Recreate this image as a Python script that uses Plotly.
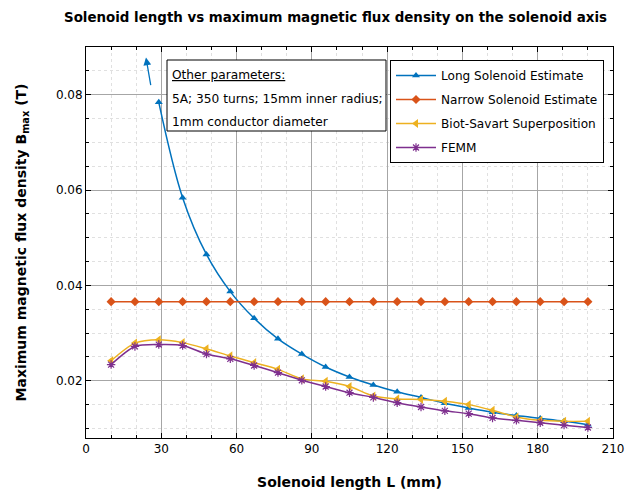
import plotly.graph_objects as go

# ---- data ----
length_mm = [10, 19.5, 29, 38.5, 48, 57.5, 67, 76.5, 86, 95.5, 105, 114.5, 124,
             133.5, 143, 152.5, 162, 171.5, 181, 190.5, 200]
long_x = length_mm[2:]
long_solenoid = [0.0784, 0.0584, 0.0465, 0.0387, 0.0331, 0.0288, 0.0256, 0.0229,
                 0.0208, 0.0191, 0.0177, 0.0165, 0.0153, 0.0143, 0.0134, 0.0127,
                 0.0121, 0.0115, 0.0108]
narrow_solenoid = [0.0366] * 21
biot_savart = [0.0242, 0.0279, 0.0286, 0.0280, 0.0267, 0.0252, 0.0238, 0.0224,
               0.0204, 0.0199, 0.0188, 0.0168, 0.0162, 0.0161, 0.0157, 0.0150,
               0.0138, 0.0124, 0.0117, 0.0115, 0.0115]
femm = [0.0234, 0.0272, 0.0276, 0.0274, 0.0256, 0.0246, 0.0232, 0.0217, 0.0201,
        0.0188, 0.0175, 0.0165, 0.0154, 0.0145, 0.0137, 0.0131, 0.0122, 0.0117,
        0.0112, 0.0107, 0.0102]
x_ticks = [0, 30, 60, 90, 120, 150, 180, 210]
y_ticks = [0.02, 0.04, 0.06, 0.08]

FONT = "DejaVu Sans"
BLUE, ORANGE, YELLOW, PURPLE = "#0072BD", "#D95319", "#EDB120", "#7E2F8E"

# page body adds an 8px offset; plot area target (screen px): x 86..613, y 47..438
OFF = 8
FIG_W, FIG_H = 639 - OFF, 492 - OFF
PL, PR, PT, PB = 86, 613, 47, 438
PW, PH = PR - PL, PB - PT

fig = go.Figure()
fig.add_trace(go.Scatter(x=long_x, y=long_solenoid, name="Long Solenoid Estimate",
                         mode="lines+markers", line=dict(color=BLUE, width=1.5, shape="spline"),
                         marker=dict(symbol="triangle-up", size=7, color=BLUE),
                         legendgroup="a"))
fig.add_trace(go.Scatter(x=length_mm, y=narrow_solenoid, name="Narrow Solenoid Estimate",
                         mode="lines+markers", line=dict(color=ORANGE, width=1.5),
                         marker=dict(symbol="diamond", size=7, color=ORANGE),
                         legendgroup="b"))
fig.add_trace(go.Scatter(x=length_mm, y=biot_savart, name="Biot-Savart Superposition",
                         mode="lines+markers", line=dict(color=YELLOW, width=1.5, shape="spline", smoothing=0.8),
                         marker=dict(symbol="triangle-left", size=8, color=YELLOW),
                         legendgroup="c"))
fig.add_trace(go.Scatter(x=length_mm, y=femm, name="FEMM",
                         mode="lines+markers", line=dict(color=PURPLE, width=1.5, shape="spline", smoothing=0.8),
                         marker=dict(symbol="asterisk-open", size=7, color=PURPLE,
                                     line=dict(color=PURPLE, width=1.2)),
                         legendgroup="d"))

axis_common = dict(showline=True, linecolor="black", linewidth=1, mirror="ticks",
                   ticks="inside", ticklen=5, tickcolor="black", zeroline=False,
                   gridcolor="#a6a6a6", gridwidth=1, automargin=False,
                   tickfont=dict(family=FONT, size=12, color="black"))

fig.update_xaxes(range=[0, 210], tickvals=x_ticks, ticktext=[str(v) for v in x_ticks],
                 minor=dict(dtick=10, tick0=0, ticks="inside", ticklen=3, tickcolor="black",
                            showgrid=True, gridcolor="#e0e0e0", griddash="dot"),
                 title=dict(text="<b>Solenoid length L (mm)</b>", font=dict(family=FONT, size=14, color="black"),
                            standoff=21),
                 **axis_common)
fig.update_yaxes(range=[0.008, 0.09], tickvals=y_ticks, ticktext=["0.02", "0.04", "0.06", "0.08"],
                 minor=dict(dtick=0.005, tick0=0, ticks="inside", ticklen=3, tickcolor="black",
                            showgrid=True, gridcolor="#e0e0e0", griddash="dot"),
                 title=dict(text="<b>Maximum magnetic flux density B<sub>max</sub> (T)</b>",
                            font=dict(family=FONT, size=14, color="black"), standoff=25),
                 **axis_common)

def px_x(sx):
    return (sx - PL) / PW

def px_y(sy):
    return (PB - sy) / PH

# annotation box
fig.add_shape(type="rect", xref="paper", yref="paper", x0=px_x(167), x1=px_x(386),
              y0=px_y(131), y1=px_y(60),
              line=dict(color="black", width=1), fillcolor="white", layer="above")
lines = ["<u>Other parameters:</u>", "5A; 350 turns; 15mm inner radius;", "1mm conductor diameter"]
ys = [75, 99, 122]
for t, ypx in zip(lines, ys):
    fig.add_annotation(text=t, xref="paper", yref="paper", x=px_x(170), y=px_y(ypx),
                       xanchor="left", yanchor="middle", showarrow=False,
                       font=dict(family=FONT, size=12.2, color="black"))

# arrow indicating curve continues off-chart
fig.add_annotation(x=23.9, y=0.0878, ax=25.9, ay=0.0817, xref="x", yref="y", axref="x", ayref="y",
                   showarrow=True, arrowhead=2, arrowsize=1.2, arrowwidth=1.3, arrowcolor=BLUE, text="")

fig.update_layout(
    width=FIG_W, height=FIG_H,
    margin=dict(l=PL - OFF, r=639 - PR, t=PT - OFF, b=492 - PB, autoexpand=False),
    paper_bgcolor="white", plot_bgcolor="white",
    font=dict(family=FONT, size=12, color="black"),
    title=dict(text="<b>Solenoid length vs maximum magnetic flux density on the solenoid axis</b>",
               xref="paper", x=px_x(335.5), xanchor="center",
               yref="container", y=1 - (17 - OFF) / FIG_H, yanchor="middle",
               font=dict(family=FONT, size=13.4, color="black")),
    legend=dict(x=px_x(604), xanchor="right", y=px_y(60), yanchor="top",
                bgcolor="white", bordercolor="black", borderwidth=1,
                font=dict(family=FONT, size=12.1, color="black"),
                itemwidth=40, tracegroupgap=5),
    showlegend=True,
)

fig.write_html("out.html")
